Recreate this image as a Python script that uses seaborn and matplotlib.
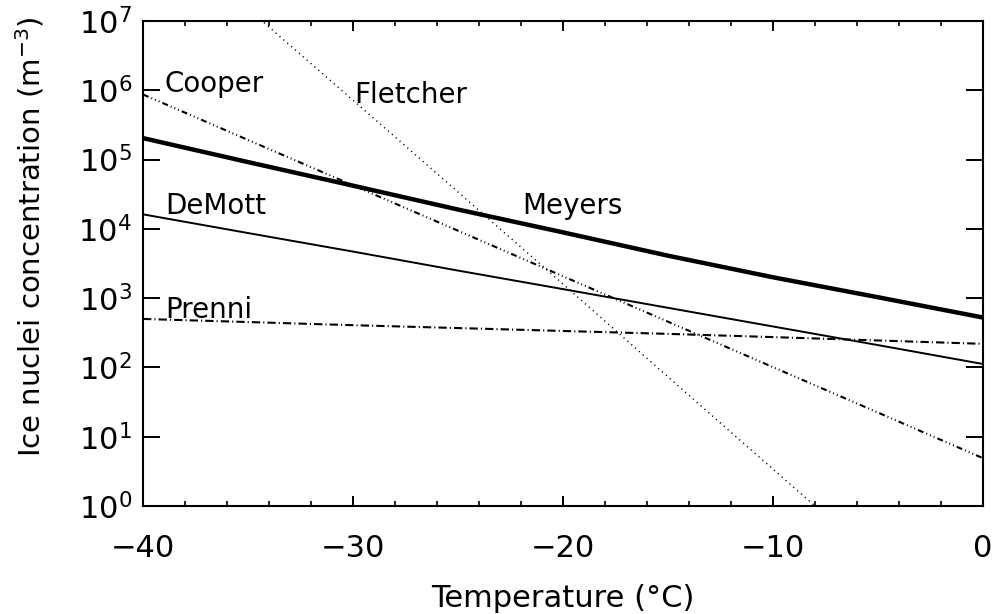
import numpy as np
import pandas as pd
import matplotlib
matplotlib.use("Agg")
import matplotlib.pyplot as plt
import seaborn as sns
from matplotlib.ticker import MultipleLocator, LogLocator, NullLocator

# ---- data ----
temps = [-40, -35, -30, -25, -20, -15, -10, -5, 0]
meyers = [2.04e5, 9.2e4, 4.2e4, 1.9e4, 8.9e3, 4.1e3, 2.0e3, 1.03e3, 5.25e2]
demott = [1.62e4, 8.7e3, 4.7e3, 2.5e3, 1.35e3, 7.25e2, 3.9e2, 2.1e2, 1.12e2]
cooper = [8.7e5, 1.92e5, 4.25e4, 9.4e3, 2.07e3, 4.57e2, 1.01e2, 2.23e1, 4.9]
prenni = [5.01e2, 4.52e2, 4.07e2, 3.70e2, 3.36e2, 3.05e2, 2.74e2, 2.45e2, 2.19e2]
fletcher_temps = [-36, -35, -30, -25, -20, -15, -10, -5]
fletcher = [2.8e7, 1.5e7, 7.2e5, 3.4e4, 1.6e3, 7.3e1, 3.4, 0.16]

xticks = [-40, -30, -20, -10, 0]
xlabel = "Temperature (°C)"
ylabel = "Ice nuclei concentration (m$^{-3}$)"

sns.set_style("white")
plt.rcParams["font.family"] = ["DejaVu Sans"]
plt.rcParams["lines.scale_dashes"] = False
plt.rcParams["mathtext.fontset"] = "dejavusans"
for k in ["text.color", "axes.labelcolor", "xtick.color", "ytick.color",
          "axes.edgecolor"]:
    plt.rcParams[k] = "black"

fig = plt.figure(figsize=(10.02, 6.14), dpi=100)
ax = fig.add_axes([143 / 1002, 1 - 506 / 614, 840 / 1002, 485 / 614])

def draw(x, y, **kw):
    df = pd.DataFrame({"T": x, "N": y})
    sns.lineplot(data=df, x="T", y="N", ax=ax, color="black", **kw)

draw(temps, meyers, linewidth=3.2, linestyle="-")
draw(temps, demott, linewidth=1.4, linestyle="-")
draw(temps, cooper, linewidth=1.5, linestyle=(0, (4.3, 2.2, 0.7, 2.2, 0.7, 2.2, 0.7, 2.2)))
draw(temps, prenni, linewidth=1.5, linestyle=(0, (6.0, 2.2, 0.8, 2.2)))
draw(fletcher_temps, fletcher, linewidth=1.1, linestyle=(0, (0.8, 2.9)))

ax.set_yscale("log")
ax.set_xlim(-40, 0)
ax.set_ylim(1, 1e7)

ax.xaxis.set_major_locator(MultipleLocator(10))
ax.xaxis.set_minor_locator(MultipleLocator(2))
ax.yaxis.set_major_locator(LogLocator(base=10, numticks=20))
ax.yaxis.set_minor_locator(NullLocator())

for s in ax.spines.values():
    s.set_visible(True)
    s.set_linewidth(1.5)
    s.set_color("black")

ax.tick_params(axis="x", which="major", direction="in", length=7, width=1.4,
               top=True, bottom=True, labelsize=22, pad=20, colors="black")
ax.tick_params(axis="x", which="minor", direction="in", length=3.6, width=1.2,
               top=True, bottom=True, colors="black")
ax.tick_params(axis="y", which="major", direction="in", length=12, width=1.4,
               left=True, right=True, labelsize=22, pad=8, colors="black")

ax.set_xlabel(xlabel, fontsize=22)
ax.set_ylabel(ylabel, fontsize=21)
ax.xaxis.label.set(va="center", ha="center")
ax.yaxis.label.set(va="center", ha="center")
ax.xaxis.set_label_coords(0.5, -0.19)
ax.yaxis.set_label_coords(-0.1345, 0.555)

lbl = dict(transform=ax.transAxes, fontsize=20, ha="left", va="baseline", color="black")
ax.text(0.026, 0.854, "Cooper", **lbl)
ax.text(0.251, 0.831, "Fletcher", **lbl)
ax.text(0.451, 0.602, "Meyers", **lbl)
ax.text(0.027, 0.602, "DeMott", **lbl)
ax.text(0.027, 0.388, "Prenni", **lbl)

fig.savefig("out.png", dpi=100)
